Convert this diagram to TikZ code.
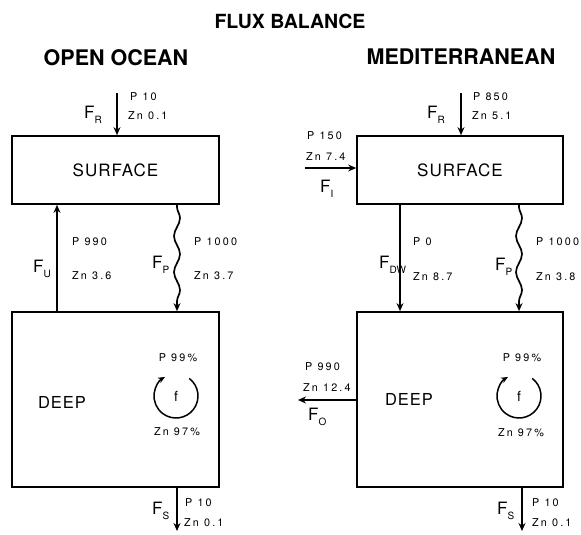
\documentclass[tikz,border=0pt]{standalone}
\usepackage{fontspec}
\setmainfont{TeX Gyre Heros}
\newfontfamily\lblfont[LetterSpace=20]{TeX Gyre Heros}
\newfontfamily\boxfont[LetterSpace=6]{TeX Gyre Heros}
\usetikzlibrary{arrows.meta,decorations.pathmorphing}
\newcommand\FL[1]{F\raisebox{-5pt}{\fontsize{10}{10}\selectfont #1}}
\tikzset{
  box/.style={draw, line width=1.7pt, inner sep=0pt, font=\boxfont\fontsize{17}{18}\selectfont},
  arr/.style={line width=1.3pt, -{Stealth[length=8pt,width=7pt]}},
  wavy/.style={line width=1.7pt, -{Stealth[length=8pt,width=7pt]},
    decorate, decoration={snake, segment length=36pt, amplitude=3pt, post length=9pt, pre length=2pt}},
  lbl/.style={anchor=west, inner sep=0pt, font=\lblfont\fontsize{10.8}{12}\selectfont},
  clbl/.style={inner sep=0pt, font=\lblfont\fontsize{10.8}{12}\selectfont},
  flab/.style={anchor=base west, inner sep=0pt, font=\fontsize{17}{18}\selectfont},
  ttl/.style={inner sep=0pt, font=\bfseries\fontsize{21.5}{24}\selectfont},
  plain/.style={inner sep=0pt, font=\boxfont\fontsize{16.5}{18}\selectfont}
}
\begin{document}
\begin{tikzpicture}[x=1pt,y=1pt]
\path[use as bounding box] (0,0) rectangle (581,-535);
% titles
\node[inner sep=0pt, font=\bfseries\fontsize{19.5}{22}\selectfont] (title) at (290,-21) {FLUX BALANCE};
\node[ttl] (openT) at (116,-58) {OPEN OCEAN};
\node[ttl] (medT) at (461,-57) {MEDITERRANEAN};

% ===== OPEN OCEAN =====
\node[box, minimum width=207pt, minimum height=68pt] (surfL) at (115.5,-170) {SURFACE};
\node[box, minimum width=207pt, minimum height=175pt] (deepL) at (115.5,-399.5) {};
\node[plain] (deepLt) at (62,-402) {DEEP};

% F_R
\coordinate (frL) at (117,-93);
\draw[arr] (frL) -- (frL |- surfL.north);
\node[flab] (frLF) at (84,-118) {\FL{R}};
\node[lbl] (frLp) at (130,-97) {P 10};
\node[lbl] (frLz) at (128,-116) {Zn 0.1};

% F_U
\coordinate (fuL) at (57,-250);
\draw[arr] (fuL |- deepL.north) -- (fuL |- surfL.south);
\node[flab] (fuLF) at (33,-272) {\FL{U}};
\node[lbl] (fuLp) at (72,-242) {P 990};
\node[lbl] (fuLz) at (72,-276) {Zn 3.6};

% F_P
\coordinate (fpL) at (177,-250);
\draw[wavy] (fpL |- surfL.south) -- (fpL |- deepL.north);
\node[flab] (fpLF) at (152,-268) {\FL{P}};
\node[lbl] (fpLp) at (194,-242) {P 1000};
\node[lbl] (fpLz) at (194,-276) {Zn 3.7};

% F_S
\coordinate (fsL) at (177,-531);
\draw[arr] (fsL |- deepL.south) -- (fsL);
\node[flab] (fsLF) at (152,-514) {\FL{S}};
\node[lbl] (fsLp) at (185,-503) {P 10};
\node[lbl] (fsLz) at (184,-523) {Zn 0.1};

% recycling circle
\coordinate (cL) at (176,-396);
\draw[line width=1.5pt, -{Stealth[length=7pt,width=6pt]}] ([shift={(53:22)}]cL) arc[start angle=53, end angle=-240, radius=22];
\node[inner sep=0pt, font=\fontsize{14}{16}\selectfont] (fL) at (cL) {f};
\node[clbl] (cLp) at (178,-358) {P 99\%};
\node[clbl] (cLz) at (177,-432) {Zn 97\%};

% ===== MEDITERRANEAN =====
\node[box, minimum width=206pt, minimum height=68pt] (surfR) at (460,-170) {SURFACE};
\node[box, minimum width=206pt, minimum height=175pt] (deepR) at (460,-399.5) {};
\node[plain] (deepRt) at (409,-399) {DEEP};

% F_R
\coordinate (frR) at (461,-93);
\draw[arr] (frR) -- (frR |- surfR.north);
\node[flab] (frRF) at (427,-118) {\FL{R}};
\node[lbl] (frRp) at (473,-97) {P 850};
\node[lbl] (frRz) at (472,-116) {Zn 5.1};

% F_I
\coordinate (fiR) at (305,-168);
\draw[arr] (fiR) -- (fiR -| surfR.west);
\node[flab] (fiRF) at (320,-192) {\FL{I}};
\node[lbl] (fiRp) at (307,-136) {P 150};
\node[lbl] (fiRz) at (306,-157) {Zn 7.4};

% F_DW
\coordinate (fdR) at (400,-250);
\draw[arr] (fdR |- surfR.south) -- (fdR |- deepR.north);
\node[flab] (fdRF) at (379,-268) {\FL{DW}};
\node[lbl] (fdRp) at (413,-242) {P 0};
\node[lbl] (fdRz) at (413,-277) {Zn 8.7};

% F_P
\coordinate (fpR) at (519,-250);
\draw[wavy] (fpR |- surfR.south) -- (fpR |- deepR.north);
\node[flab] (fpRF) at (495,-270) {\FL{P}};
\node[lbl] (fpRp) at (536,-242) {P 1000};
\node[lbl] (fpRz) at (536,-277) {Zn 3.8};

% F_O
\coordinate (foR) at (298,-400);
\draw[arr] (foR -| deepR.west) -- (foR);
\node[flab] (foRF) at (308,-420) {\FL{O}};
\node[lbl] (foRp) at (305,-367) {P 990};
\node[lbl] (foRz) at (303,-388) {Zn 12.4};

% F_S
\coordinate (fsR) at (522,-531);
\draw[arr] (fsR |- deepR.south) -- (fsR);
\node[flab] (fsRF) at (497,-514) {\FL{S}};
\node[lbl] (fsRp) at (532,-503) {P 10};
\node[lbl] (fsRz) at (532,-523) {Zn 0.1};

% recycling circle
\coordinate (cR) at (519,-396);
\draw[line width=1.5pt, -{Stealth[length=7pt,width=6pt]}] ([shift={(53:22)}]cR) arc[start angle=53, end angle=-240, radius=22];
\node[inner sep=0pt, font=\fontsize{14}{16}\selectfont] (fR) at (cR) {f};
\node[clbl] (cRp) at (522,-358) {P 99\%};
\node[clbl] (cRz) at (521,-433) {Zn 97\%};
\end{tikzpicture}
\end{document}
